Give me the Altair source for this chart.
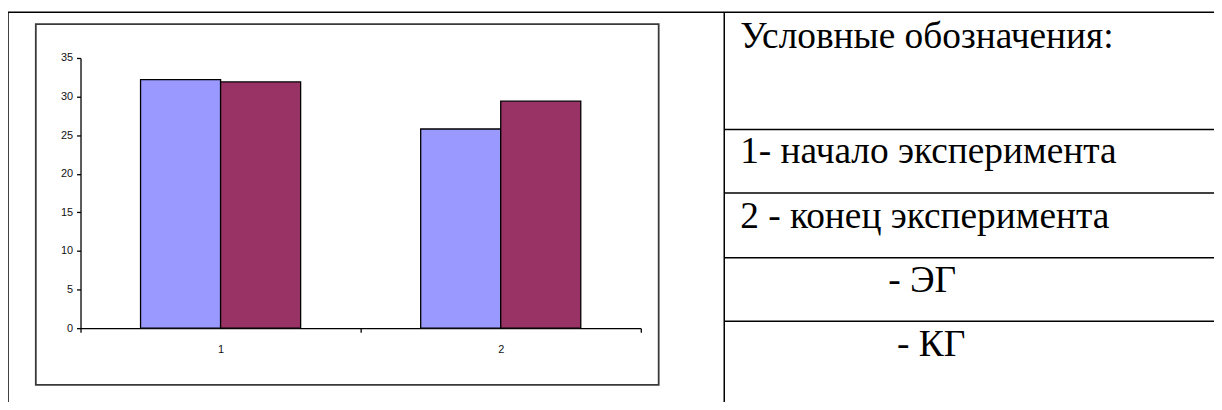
import altair as alt
import pandas as pd

# ---- data ----
stages = ["1", "2"]
groups = ["ЭГ", "КГ"]
eg_values = [32.2, 25.8]
kg_values = [31.9, 29.4]
y_ticks = [0, 5, 10, 15, 20, 25, 30, 35]

legend_title = "Условные обозначения:"
legend_rows = ["1- начало эксперимента", "2 - конец эксперимента", "- ЭГ", "- КГ"]

colors = ["#9999FF", "#993366"]

rows = []
for i, s in enumerate(stages):
    rows.append({"stage": s, "group": groups[0], "value": eg_values[i]})
    rows.append({"stage": s, "group": groups[1], "value": kg_values[i]})
df = pd.DataFrame(rows)

W, H = 564, 272          # plot area
PAD_L, PAD_T = 73, 49
TOTAL_W, TOTAL_H = 1214, 394

bars = alt.Chart(df).mark_bar(stroke="#000000", strokeWidth=1.3).encode(
    x=alt.X("stage:N", sort=stages,
            scale=alt.Scale(paddingInner=0, paddingOuter=0),
            axis=alt.Axis(title=None, labelAngle=0, tickBand="extent", tickSize=4,
                          domainColor="#000000", tickColor="#000000", domainWidth=1.3,
                          tickWidth=1.3,
                          labelFont="Liberation Sans", labelFontSize=11, labelColor="#111111",
                          labelPadding=11, grid=False)),
    xOffset=alt.XOffset("group:N", sort=groups,
                        scale=alt.Scale(paddingInner=0, paddingOuter=0.75)),
    y=alt.Y("value:Q", scale=alt.Scale(domain=[0, 35], nice=False),
            axis=alt.Axis(title=None, values=y_ticks, tickSize=4, grid=False,
                          domainColor="#000000", tickColor="#000000", domainWidth=1.3,
                          tickWidth=1.3,
                          labelFont="Liberation Sans", labelFontSize=11, labelColor="#111111",
                          labelPadding=4)),
    color=alt.Color("group:N", sort=groups,
                    scale=alt.Scale(domain=groups, range=colors), legend=None),
)

one = alt.Data(values=[{}])

def rule(x, y, x2, y2, color="#000000", w=1.5):
    return alt.Chart(one).mark_rule(color=color, strokeWidth=w).encode(
        x=alt.value(x), y=alt.value(y), x2=alt.value(x2), y2=alt.value(y2))

# outer table (relative to the plot origin)
L, T, R, B = -73, -46, 1141, 360
DIV = 648
table = [
    rule(L, T, R, T),
    rule(L, T, L, B),
    rule(DIV, T, DIV, B),
]
for hy in [72, 136, 201, 265]:
    table.append(rule(DIV, hy, R, hy))

frame = alt.Chart(one).mark_rect(filled=False, stroke="#3a3a3a", strokeWidth=1.8).encode(
    x=alt.value(-45), y=alt.value(-34), x2=alt.value(582), y2=alt.value(329))

def txt(s, x, y):
    return alt.Chart(one).mark_text(font="Liberation Serif", fontSize=37.6, color="#000000",
                                    align="left", baseline="alphabetic").encode(
        x=alt.value(x), y=alt.value(y), text=alt.value(s))

texts = [
    txt(legend_title, 664, -10),
    txt(legend_rows[0], 664, 106),
    txt(legend_rows[1], 664, 171),
    txt(legend_rows[2], 813, 236),
    txt(legend_rows[3], 822, 300),
]

chart = alt.layer(frame, *table, bars, *texts).properties(
    width=W, height=H,
    autosize=alt.AutoSizeParams(type="none"),
    padding={"left": PAD_L, "top": PAD_T, "right": TOTAL_W - PAD_L - W,
             "bottom": TOTAL_H - PAD_T - H},
).configure_view(stroke=None)

chart.save("out.html", embed_options={"renderer": "svg", "actions": False})
